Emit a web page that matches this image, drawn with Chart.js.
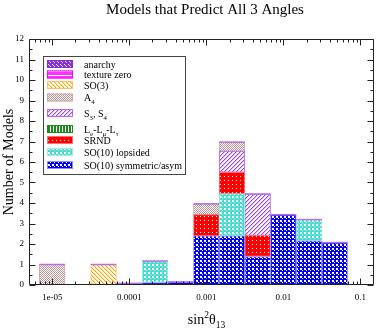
<!DOCTYPE html>
<html>
<head>
<meta charset="utf-8">
<script src="https://cdn.jsdelivr.net/npm/chart.js@4.4.1/dist/chart.umd.min.js"></script>
<style>
  html, body { margin: 0; padding: 0; background: #fff; }
</style>
</head>
<body>
<canvas id="chart" width="386" height="332"></canvas>
<script>
// bin centres of the histogram (sin^2 theta13), one third of a decade apart
const binCenters = [1e-5, 2.154e-5, 4.642e-5, 1e-4, 2.154e-4, 4.642e-4,
                    1e-3, 2.154e-3, 4.642e-3, 1e-2, 2.154e-2, 4.642e-2];

// stacked counts, bottom of the stack first
const so10Sym     = [0, 0, 0, 0.08, 0.12, 0.15, 2.4, 2.4, 1.39, 3.43, 2.16, 2.07];
const so10Lop     = [0, 0, 0, 0, 1.05, 0, 0, 2.05, 0, 0, 1.03, 0];
const srnd        = [0, 0, 0, 0, 0, 0, 1.03, 1.05, 1.03, 0, 0, 0];
const leLmuLtau   = [0, 0, 0, 0, 0, 0, 0, 0, 0, 0, 0, 0];
const s3s4        = [0, 0, 0, 0, 0, 0, 0, 1.03, 2.02, 0, 0, 0];
const a4          = [1, 0, 0, 0, 0, 0, 0.53, 0.44, 0, 0, 0, 0];
const so3         = [0, 0, 1, 0, 0, 0, 0, 0, 0, 0, 0, 0];
const textureZero = [0, 0, 0, 0, 0, 0, 0, 0, 0, 0, 0, 0];
const anarchy     = [0, 0, 0, 0, 0, 0, 0, 0, 0, 0, 0, 0];

const xTickValues = [1e-5, 1e-4, 1e-3, 1e-2, 1e-1];
const xTickLabels = ['1e-05', '0.0001', '0.001', '0.01', '0.1'];
const yTickValues = [0, 1, 2, 3, 4, 5, 6, 7, 8, 9, 10, 11, 12];

// legend text, [text, 0 normal | 1 super | -1 sub]
const legendText = {
  anarchy: [['anarchy', 0]],
  texture: [['texture zero', 0]],
  so3: [['SO(3)', 0]],
  a4: [['A', 0], ['4', -1]],
  s3s4: [['S', 0], ['3', -1], [', S', 0], ['4', -1]],
  le: [['L', 0], ['e', -1], ['-L', 0], ['\u03bc', -1], ['-L', 0], ['\u03c4', -1]],
  srnd: [['SRND', 0]],
  lop: [['SO(10) lopsided', 0]],
  sym: [['SO(10) symmetric/asym', 0]]
};

const SERIF = '"Liberation Serif", "Times New Roman", serif';

function makePattern(size, bg, draw) {
  const c = document.createElement('canvas');
  c.width = size; c.height = size;
  const g = c.getContext('2d');
  g.fillStyle = bg;
  g.fillRect(0, 0, size, size);
  draw(g, size);
  return document.getElementById('chart').getContext('2d').createPattern(c, 'repeat');
}
function dots(color, pts) {
  return g => { g.fillStyle = color; pts.forEach(p => g.fillRect(p[0], p[1], p[2] || 1, p[3] || 1)); };
}
// diagonal pixel lines with a softer neighbour pixel
function hatch(color, soft, dir) {
  return (g, n) => {
    for (let i = 0; i < n; i++) {
      const y = dir > 0 ? n - 1 - i : i;
      g.fillStyle = color; g.fillRect(i, y, 1, 1);
      g.fillStyle = soft; g.fillRect((i + 1) % n, y, 1, 1);
    }
  };
}

const pat = {
  sym: makePattern(4, '#0000ff', dots('#ffffff', [[0, 0, 2, 2], [2, 2]])),
  lop: makePattern(4, '#40e0d0', dots('#ffffff', [[0, 0, 2, 2], [2, 2]])),
  srnd: makePattern(4, '#ff0000', dots('#ffffff', [[0, 0]]).bind(null)),
  le: makePattern(3, '#ffffff', dots('#1a8a1a', [[0, 0, 2, 3]])),
  s3s4: makePattern(4, '#ffffff', hatch('#a040f0', '#dcb8fa', 1)),
  a4: makePattern(2, '#ffffff', dots('#c49494', [[0, 0], [1, 1]])),
  so3: makePattern(4, '#ffffff', hatch('#ffa500', '#ffdc9a', -1)),
  texture: makePattern(4, '#ff33ff', dots('#ffffff', [[0, 3, 4, 1]])),
  anarchy: makePattern(4, '#8a2be2', dots('#ffffff', [[0, 0], [2, 2], [1, 1]]))
};

function drawRich(ctx, segs, x, y, size, align) {
  let w = 0;
  segs.forEach(s => {
    ctx.font = (s[1] ? size * 0.68 : size) + 'px ' + SERIF;
    w += ctx.measureText(s[0]).width;
  });
  let cx = align === 'center' ? x - w / 2 : x;
  ctx.textAlign = 'left';
  ctx.textBaseline = 'alphabetic';
  segs.forEach(s => {
    const fs = s[1] ? size * 0.68 : size;
    ctx.font = fs + 'px ' + SERIF;
    const dy = s[1] === 1 ? -size * 0.45 : s[1] === -1 ? size * 0.3 : 0;
    ctx.fillText(s[0], cx, y + dy);
    cx += ctx.measureText(s[0]).width;
  });
}

// purple outline of the (empty) anarchy set, sitting on top of every stack
const stackTopPlugin = {
  id: 'stackTop',
  afterDatasetsDraw(chart) {
    const ctx = chart.ctx;
    ctx.save();
    ctx.strokeStyle = '#b46ee6';
    ctx.lineWidth = 1.5;
    binCenters.forEach((b, i) => {
      let top = -1;
      chart.data.datasets.forEach((ds, d) => { if (ds.data[i] > 0) top = d; });
      if (top < 0) return;
      const bar = chart.getDatasetMeta(top).data[i];
      ctx.beginPath();
      ctx.moveTo(bar.x - bar.width / 2, bar.y);
      ctx.lineTo(bar.x + bar.width / 2, bar.y);
      ctx.stroke();
    });
    ctx.restore();
  }
};

// frame with inward ticks on all four sides
const framePlugin = {
  id: 'frame',
  afterDatasetsDraw(chart) {
    const { ctx, chartArea: a, scales } = chart;
    const L = Math.round(a.left) + 0.5, R = Math.round(a.right) - 0.5;
    const T = Math.round(a.top) + 0.5, B = Math.round(a.bottom) - 0.5;
    ctx.save();
    ctx.strokeStyle = '#222';
    ctx.lineWidth = 1;
    ctx.beginPath();
    ctx.rect(L, T, R - L, B - T);
    const xt = (v, len) => {
      const p = Math.round(scales.x.getPixelForValue(v)) + 0.5;
      ctx.moveTo(p, B); ctx.lineTo(p, B - len);
      ctx.moveTo(p, T); ctx.lineTo(p, T + len);
    };
    const yt = (v, len) => {
      const p = Math.round(scales.y.getPixelForValue(v)) + 0.5;
      ctx.moveTo(L, p); ctx.lineTo(L + len, p);
      ctx.moveTo(R, p); ctx.lineTo(R - len, p);
    };
    for (let e = -6; e <= -1; e++) {
      for (let m = 1; m <= 9; m++) {
        const v = m * Math.pow(10, e);
        if (v < scales.x.min || v > scales.x.max) continue;
        xt(v, m === 1 ? 6 : 3);
      }
    }
    yTickValues.forEach(v => { yt(v, 6); if (v < 12) yt(v + 0.5, 3); });
    ctx.stroke();
    ctx.restore();
  }
};

// titles and the boxed legend
const textPlugin = {
  id: 'texts',
  afterDraw(chart) {
    const { ctx, chartArea: a } = chart;
    ctx.save();
    ctx.fillStyle = '#000';
    ctx.font = '15px ' + SERIF;
    ctx.textAlign = 'center';
    ctx.textBaseline = 'alphabetic';
    ctx.fillText('Models that Predict All 3 Angles', 205, 14);

    ctx.save();
    ctx.translate(13, (a.top + a.bottom) / 2);
    ctx.rotate(-Math.PI / 2);
    ctx.font = '14px ' + SERIF;
    ctx.textAlign = 'center';
    ctx.fillText('Number of Models', 0, 0);
    ctx.restore();

    drawRich(ctx, [['sin', 0], ['2', 1], ['\u03b8', 0], ['13', -1]], (a.left + a.right) / 2 + 5, 324, 14, 'center');

    // legend box
    ctx.fillStyle = '#fff';
    ctx.fillRect(43.5, 56.5, 142, 118);
    ctx.strokeStyle = '#444';
    ctx.lineWidth = 1;
    ctx.strokeRect(43.5, 56.5, 142, 118);
    const rows = [64, 74.5, 85, 97.5, 113, 129, 140, 152, 165];
    const keys = ['anarchy', 'texture', 'so3', 'a4', 's3s4', 'le', 'srnd', 'lop', 'sym'];
    const dsByKey = {};
    chart.data.datasets.forEach(ds => { dsByKey[ds.key] = ds; });
    keys.forEach((k, i) => {
      const ds = dsByKey[k];
      const y = rows[i];
      ctx.fillStyle = ds.backgroundColor;
      ctx.fillRect(47, y - 4, 26, 8);
      ctx.strokeStyle = ds.borderColor;
      ctx.strokeRect(47.5, y - 3.5, 25, 7);
      ctx.fillStyle = '#000';
      drawRich(ctx, legendText[k], 84, y + 3.5, 10, 'left');
    });
    ctx.restore();
  }
};

function ds(key, label, data, fill, border) {
  return {
    key, label, data,
    backgroundColor: fill,
    borderColor: border,
    borderWidth: 1,
    borderSkipped: false,
    barPercentage: 1,
    categoryPercentage: 1
  };
}

new Chart(document.getElementById('chart'), {
  type: 'bar',
  data: {
    labels: binCenters,
    datasets: [
      ds('sym', 'SO(10) symmetric/asym', so10Sym, pat.sym, '#8c8cff'),
      ds('lop', 'SO(10) lopsided', so10Lop, pat.lop, '#9eeee6'),
      ds('srnd', 'SRND', srnd, pat.srnd, '#ff7070'),
      ds('le', 'Le-Lmu-Ltau', leLmuLtau, pat.le, '#1a8a1a'),
      ds('s3s4', 'S3, S4', s3s4, pat.s3s4, '#b36ae8'),
      ds('a4', 'A4', a4, pat.a4, '#d0a8a8'),
      ds('so3', 'SO(3)', so3, pat.so3, '#ffc060'),
      ds('texture', 'texture zero', textureZero, pat.texture, '#ff00ff'),
      ds('anarchy', 'anarchy', anarchy, pat.anarchy, '#8a2be2')
    ]
  },
  options: {
    responsive: false,
    animation: false,
    devicePixelRatio: 1,
    layout: { padding: { top: 39, right: 12, left: 0, bottom: 0 } },
    plugins: { legend: { display: false }, tooltip: { enabled: false } },
    scales: {
      x: {
        type: 'logarithmic',
        stacked: true,
        offset: false,
        min: 5e-6,
        max: 0.15,
        afterBuildTicks: s => { s.ticks = xTickValues.map(v => ({ value: v })); },
        afterFit: s => { s.height = 47; },
        grid: { display: false, drawTicks: false },
        border: { display: false },
        ticks: {
          autoSkip: false, maxRotation: 0, padding: 7, color: '#000',
          font: { family: SERIF, size: 9 },
          callback: (v, i) => xTickLabels[i]
        }
      },
      y: {
        stacked: true,
        min: 0,
        max: 12,
        afterBuildTicks: s => { s.ticks = yTickValues.map(v => ({ value: v })); },
        afterFit: s => { s.width = 29; },
        grid: { display: false, drawTicks: false },
        border: { display: false },
        ticks: { padding: 5, color: '#000', font: { family: SERIF, size: 9 } }
      }
    }
  },
  plugins: [stackTopPlugin, framePlugin, textPlugin]
});
</script>
</body>
</html>
